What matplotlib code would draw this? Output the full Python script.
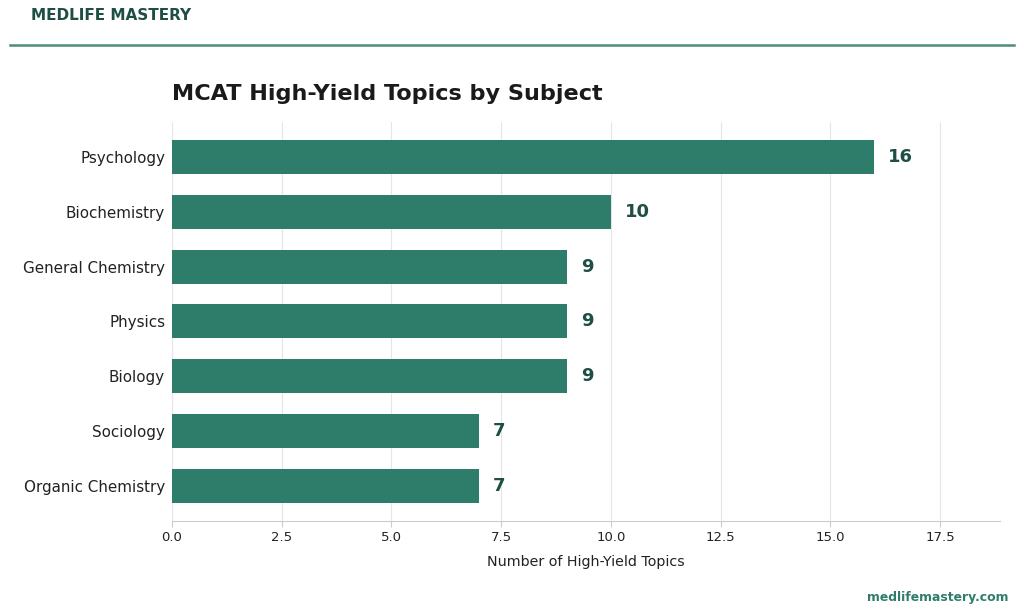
import matplotlib
matplotlib.use("Agg")
import matplotlib.pyplot as plt
from matplotlib.lines import Line2D

plt.rcParams['font.family'] = ['DejaVu Sans']

subjects = ["Psychology", "Biochemistry", "General Chemistry", "Physics", "Biology", "Sociology", "Organic Chemistry"]
counts = [16, 10, 9, 9, 9, 7, 7]

bar_color = "#2E7D6B"
dark_green = "#1F4E45"

fig = plt.figure(figsize=(10.24, 6.14), dpi=100)
ax = fig.add_axes([0.168, 0.1515, 0.809, 0.65])

y = list(range(len(subjects)))
ax.barh(y, counts, height=0.62, color=bar_color, zorder=3)
ax.invert_yaxis()
ax.set_yticks(y)
ax.set_yticklabels(subjects, fontsize=10.9, color="#222222")
ax.set_xlim(0, max(counts) * 1.18)
ax.set_xticks([0, 2.5, 5, 7.5, 10, 12.5, 15, 17.5])
ax.set_xticklabels(["0.0", "2.5", "5.0", "7.5", "10.0", "12.5", "15.0", "17.5"], fontsize=9.5, color="#222222")
ax.set_xlabel("Number of High-Yield Topics", fontsize=10.3, color="#222222", labelpad=7.5)
ax.grid(axis="x", color="#e6e6e6", linewidth=0.8, zorder=0)
for s in ["top", "right", "left"]:
    ax.spines[s].set_visible(False)
ax.spines["bottom"].set_color("#cccccc")
ax.tick_params(axis="y", length=0, pad=5)
ax.tick_params(axis="x", length=4, color="#cccccc")

for yi, v in zip(y, counts):
    ax.text(v + 0.32, yi, str(v), va="center", ha="left", fontsize=13, fontweight="bold", color=dark_green)

ax.set_title("MCAT High-Yield Topics by Subject", fontsize=16.1, fontweight="bold", color="#1a1a1a", loc="left", pad=15.5)

fig.text(31 / 1024, 1 - 16 / 614, "MEDLIFE MASTERY", fontsize=11, fontweight="bold", color=dark_green, va="center", ha="left")
fig.add_artist(Line2D([10 / 1024, 1014 / 1024], [1 - 45 / 614, 1 - 45 / 614], color="#4f8c7d", linewidth=1.8))
fig.text(1008 / 1024, 1 - 598 / 614, "medlifemastery.com", fontsize=8.9, fontweight="bold", color=bar_color, va="center", ha="right")

fig.savefig("out.png", dpi=100)
